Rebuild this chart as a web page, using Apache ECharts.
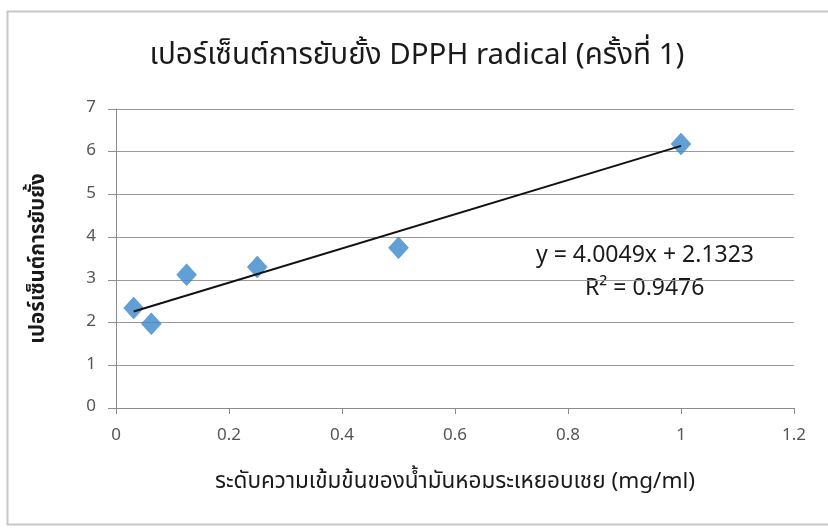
<!DOCTYPE html>
<html>
<head>
<meta charset="utf-8">
<script src="https://cdn.jsdelivr.net/npm/echarts@6/dist/echarts.min.js"></script>
<style>
html,body{margin:0;padding:0;background:#fff;}
#chart{width:828px;height:528px;}
</style>
</head>
<body>
<div id="chart"></div>
<script>
// Oil concentration (mg/ml) and DPPH radical inhibition (%)
const concentrations = [0.03125, 0.0625, 0.125, 0.25, 0.5, 1];
const inhibition = [2.34, 1.97, 3.12, 3.30, 3.75, 6.18];

// Linear trendline as reported
const slope = 4.0049;
const intercept = 2.1323;
const rSquared = 0.9476;
const trendRange = [0.03125, 1];

const xTicks = [0, 0.2, 0.4, 0.6, 0.8, 1, 1.2];
const yTicks = [0, 1, 2, 3, 4, 5, 6, 7];

const FONT = '"Noto Sans Thai", "Noto Sans", Tahoma, sans-serif';

const points = concentrations.map((x, i) => [x, inhibition[i]]);
const trend = trendRange.map(x => [x, slope * x + intercept]);

const chart = echarts.init(document.getElementById('chart'));
chart.setOption({
  animation: false,
  backgroundColor: '#fff',
  title: {
    text: 'เปอร์เซ็นต์การยับยั้ง DPPH radical (ครั้งที่ 1)',
    left: 412, top: 38, textAlign: 'center',
    textStyle: { fontFamily: FONT, fontSize: 29.5, fontWeight: 'normal', color: '#1a1a1a' }
  },
  grid: { left: 116, right: 34, top: 109, bottom: 120 },
  xAxis: {
    type: 'value', min: 0, max: 1.2, interval: 0.2,
    name: 'ระดับความเข้มข้นของน้ำมันหอมระเหยอบเชย (mg/ml)',
    nameLocation: 'middle', nameGap: 64,
    nameTextStyle: { fontFamily: FONT, fontSize: 22.5, color: '#1a1a1a' },
    axisLine: { onZero: false, lineStyle: { color: '#8c8c8c', width: 1 } },
    axisTick: { show: true, length: 6, inside: false, lineStyle: { color: '#8c8c8c' } },
    axisLabel: {
      margin: 20, fontFamily: FONT, fontSize: 17, color: '#555',
      formatter: v => xTicks.includes(Math.round(v * 10) / 10) ? String(Math.round(v * 10) / 10) : ''
    },
    splitLine: { show: false }
  },
  yAxis: {
    type: 'value', min: 0, max: 7, interval: 1,
    name: 'เปอร์เซ็นต์การยับยั้ง',
    nameLocation: 'middle', nameGap: 66, nameRotate: 90,
    nameTextStyle: { fontFamily: FONT, fontSize: 20.5, fontWeight: 'bold', color: '#1a1a1a' },
    axisLine: { show: true, lineStyle: { color: '#8c8c8c', width: 1 } },
    axisTick: { show: true, length: 8, lineStyle: { color: '#8c8c8c' } },
    axisLabel: {
      margin: 20, fontFamily: FONT, fontSize: 17, color: '#555',
      formatter: v => yTicks.includes(v) ? String(v) : ''
    },
    splitLine: { show: true, lineStyle: { color: '#9a9a9a', width: 1 } }
  },
  graphic: [
    {
      type: 'rect', shape: { x: 7.5, y: 11.5, width: 840, height: 513 },
      style: { fill: 'none', stroke: '#c8c8c8', lineWidth: 2 }, silent: true, z: -1
    },
    {
      type: 'text', left: 536, top: 246,
      style: { text: 'y = 4.0049x + 2.1323', fontFamily: FONT, fontSize: 23, fill: '#1a1a1a' }
    },
    {
      type: 'text', left: 585, top: 279,
      style: { text: 'R² = ' + rSquared, fontFamily: FONT, fontSize: 23, fill: '#1a1a1a' }
    }
  ],
  series: [
    {
      type: 'line', data: trend, symbol: 'none', z: 3,
      lineStyle: { color: '#111', width: 2 }
    },
    {
      type: 'scatter', data: points, symbol: 'diamond', symbolSize: [20, 22], z: 2,
      itemStyle: { color: '#3a87c9', borderColor: '#3380c2', borderWidth: 0.5 }
    }
  ]
});
</script>
</body>
</html>
